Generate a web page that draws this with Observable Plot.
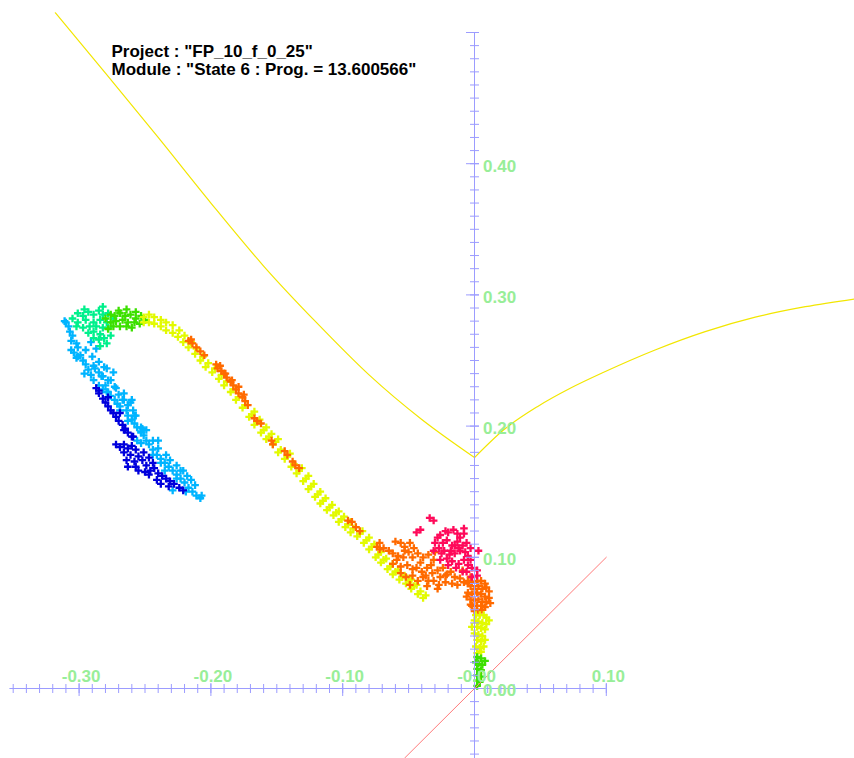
<!DOCTYPE html>
<html><head><meta charset="utf-8">
<script src="https://cdn.jsdelivr.net/npm/d3@7"></script>
<script src="https://cdn.jsdelivr.net/npm/@observablehq/plot@0.6"></script>
<style>html,body{margin:0;padding:0;background:#fff;overflow:hidden}</style>
</head><body><div id="chart"></div>
<script>
// ---- text ----
const titleLines = ['Project : "FP_10_f_0_25"', 'Module : "State 6 : Prog. = 13.600566"'];
const xLabelValues = [-0.3, -0.2, -0.1, 0, 0.1];
const xLabels = ["-0.30", "-0.20", "-0.10", "-0.00", "0.10"];
const yLabelValues = [0, 0.1, 0.2, 0.3, 0.4];
const yLabels = ["0.00", "0.10", "0.20", "0.30", "0.40"];
const xMinor = d3.range(-35, 11).map(i => i / 100);
const xMajor = [-0.3, -0.2, -0.1, 0, 0.1];
const yMinor = d3.range(-5, 51).map(i => i / 100);
const yMajor = [0, 0.1, 0.2, 0.3, 0.4, 0.5];
const xAxisExtent = [-0.3525, 0.10];
const yAxisExtent = [-0.054, 0.50];

// ---- curves ----
const yellowCurveLeft = [[-0.318,0.515],[-0.280,0.469],[-0.240,0.420],[-0.200,0.370],[-0.160,0.322],[-0.120,0.279],[-0.080,0.239],[-0.040,0.205],[0,0.176]];
const yellowCurveRight = [[0,0.176],[0.022,0.197],[0.048,0.215],[0.073,0.229],[0.098,0.241],[0.137,0.258],[0.175,0.272],[0.213,0.283],[0.251,0.291],[0.289,0.297]];
const diagonal = [[-0.053,-0.053],[0.10,0.10]];

// ---- scatter groups ----
const lightBlue = [[-0.311,0.280],[-0.308,0.276],[-0.307,0.272],[-0.305,0.269],[-0.306,0.265],[-0.302,0.263],[-0.301,0.260],[-0.304,0.256],[-0.299,0.254],[-0.297,0.250],[-0.295,0.247],[-0.293,0.243],[-0.291,0.239],[-0.289,0.235],[-0.285,0.231],[-0.282,0.228],[-0.280,0.231],[-0.278,0.226],[-0.276,0.223],[-0.273,0.220],[-0.271,0.217],[-0.269,0.215],[-0.270,0.224],[-0.266,0.220],[-0.264,0.212],[-0.263,0.208],[-0.260,0.205],[-0.258,0.202],[-0.256,0.199],[-0.253,0.196],[-0.251,0.193],[-0.249,0.189],[-0.253,0.187],[-0.247,0.186],[-0.244,0.182],[-0.241,0.178],[-0.238,0.175],[-0.235,0.172],[-0.232,0.169],[-0.229,0.166],[-0.226,0.163],[-0.223,0.160],[-0.220,0.157],[-0.217,0.153],[-0.214,0.150],[-0.211,0.147],[-0.208,0.145],[-0.240,0.189],[-0.252,0.198],[-0.257,0.208],[-0.282,0.238],[-0.289,0.246],[-0.295,0.258],[-0.302,0.252],[-0.296,0.240],[-0.276,0.235],[-0.272,0.229],[-0.266,0.225],[-0.261,0.218],[-0.259,0.212],[-0.244,0.189],[-0.234,0.178],[-0.226,0.170],[-0.218,0.162],[-0.215,0.159],[-0.207,0.147],[-0.306,0.258],[-0.301,0.253],[-0.279,0.244],[-0.253,0.199],[-0.310,0.279],[-0.240,0.183],[-0.231,0.174],[-0.221,0.166],[-0.212,0.155],[-0.274,0.241],[-0.285,0.241],
[-0.291,0.264],[-0.287,0.259],[-0.290,0.253],[-0.285,0.249],[-0.288,0.244],[-0.281,0.245],[-0.283,0.238],[-0.278,0.235],[-0.279,0.226],[-0.273,0.230],[-0.267,0.220],[-0.263,0.216],[-0.260,0.220],[-0.269,0.212],[-0.258,0.208],[-0.263,0.204],[-0.253,0.195],[-0.249,0.197],[-0.256,0.189],[-0.244,0.178],[-0.238,0.172],[-0.235,0.166],[-0.226,0.160],[-0.229,0.151],[-0.219,0.150],[-0.223,0.166]];
const darkBlue = [[-0.287,0.229],[-0.285,0.225],[-0.282,0.221],[-0.280,0.218],[-0.278,0.215],[-0.276,0.212],[-0.274,0.210],[-0.272,0.207],[-0.270,0.204],[-0.267,0.201],[-0.265,0.198],[-0.263,0.195],[-0.260,0.192],[-0.272,0.186],[-0.269,0.184],[-0.266,0.186],[-0.263,0.183],[-0.260,0.185],[-0.257,0.182],[-0.266,0.180],[-0.261,0.178],[-0.255,0.177],[-0.264,0.174],[-0.258,0.173],[-0.252,0.174],[-0.249,0.170],[-0.263,0.169],[-0.255,0.166],[-0.250,0.165],[-0.246,0.166],[-0.243,0.168],[-0.240,0.164],[-0.237,0.162],[-0.234,0.160],[-0.231,0.158],[-0.228,0.156],[-0.224,0.153],[-0.247,0.163],[-0.241,0.159],[-0.221,0.151],[-0.238,0.156],[-0.232,0.154],[-0.244,0.172],[-0.251,0.180],[-0.247,0.176],[-0.285,0.227],[-0.278,0.222],[-0.269,0.210],[-0.266,0.197],[-0.259,0.192],[-0.257,0.169]];
const aqua = [[-0.305,0.282],[-0.301,0.286],[-0.297,0.284],[-0.293,0.287],[-0.289,0.285],[-0.285,0.288],[-0.282,0.285],[-0.278,0.286],[-0.301,0.279],[-0.295,0.281],[-0.289,0.279],[-0.284,0.281],[-0.279,0.279],[-0.297,0.275],[-0.292,0.276],[-0.287,0.276],[-0.282,0.275],[-0.278,0.275],[-0.293,0.271],[-0.289,0.272],[-0.284,0.270],[-0.281,0.267],[-0.285,0.266],[-0.289,0.267],[-0.279,0.263],[-0.276,0.269],[-0.302,0.276],[-0.274,0.282],[-0.296,0.289],[-0.282,0.291],[-0.284,0.261]];
const green = [[-0.280,0.282],[-0.276,0.285],[-0.273,0.284],[-0.269,0.286],[-0.265,0.284],[-0.261,0.285],[-0.257,0.282],[-0.253,0.284],[-0.250,0.281],[-0.276,0.279],[-0.272,0.280],[-0.267,0.281],[-0.263,0.279],[-0.258,0.279],[-0.254,0.278],[-0.274,0.276],[-0.269,0.276],[-0.264,0.276],[-0.260,0.275],[-0.270,0.288],[-0.264,0.289],[-0.278,0.274],[-0.257,0.287]];
const yellow = [[-0.251,0.283],[-0.251,0.279],[-0.247,0.285],[-0.247,0.279],[-0.243,0.283],[-0.243,0.278],[-0.238,0.281],[-0.238,0.276],[-0.234,0.279],[-0.234,0.273],[-0.229,0.277],[-0.229,0.271],[-0.224,0.273],[-0.225,0.268],[-0.220,0.269],[-0.221,0.264],[-0.215,0.264],[-0.217,0.260],[-0.211,0.259],[-0.212,0.255],[-0.206,0.253],[-0.208,0.250],[-0.202,0.248],[-0.204,0.245],[-0.197,0.244],[-0.199,0.241],[-0.192,0.239],[-0.194,0.236],[-0.188,0.234],[-0.190,0.231],[-0.183,0.228],[-0.185,0.226],[-0.179,0.222],[-0.181,0.220],[-0.174,0.216],[-0.176,0.214],[-0.169,0.209],[-0.171,0.207],[-0.167,0.211],[-0.165,0.203],[-0.167,0.201],[-0.163,0.205],[-0.160,0.197],[-0.162,0.195],[-0.158,0.199],[-0.156,0.192],[-0.158,0.190],[-0.154,0.194],[-0.151,0.188],[-0.153,0.186],[-0.149,0.190],[-0.147,0.182],[-0.149,0.180],[-0.142,0.177],[-0.144,0.175],[-0.140,0.179],[-0.137,0.171],[-0.139,0.169],[-0.133,0.166],[-0.135,0.164],[-0.131,0.168],[-0.128,0.160],[-0.130,0.158],[-0.126,0.162],[-0.124,0.154],[-0.126,0.152],[-0.122,0.156],[-0.119,0.148],[-0.121,0.146],[-0.117,0.150],[-0.115,0.143],[-0.117,0.141],[-0.113,0.145],[-0.110,0.138],[-0.112,0.136],[-0.108,0.140],[-0.105,0.134],[-0.107,0.132],[-0.103,0.135],[-0.101,0.129],[-0.103,0.127],[-0.099,0.131],[-0.096,0.125],[-0.098,0.123],[-0.094,0.127],[-0.092,0.122],[-0.094,0.119],[-0.090,0.123],[-0.087,0.118],[-0.089,0.116],[-0.085,0.120],[-0.082,0.113],[-0.084,0.111],[-0.080,0.115],[-0.078,0.108],[-0.080,0.106],[-0.076,0.110],[-0.073,0.102],[-0.075,0.100],[-0.071,0.104],[-0.069,0.098],[-0.071,0.096],[-0.067,0.099],[-0.064,0.093],[-0.066,0.091],[-0.062,0.095],[-0.060,0.089],[-0.062,0.087],[-0.058,0.090],[-0.055,0.085],[-0.057,0.083],[-0.053,0.086],[-0.050,0.082],[-0.052,0.080],[-0.048,0.083],[-0.046,0.078],[-0.048,0.076],[-0.044,0.079],[-0.041,0.074],[-0.043,0.072],[-0.037,0.071],[-0.039,0.069]];
const orange = [[-0.217,0.265],[-0.214,0.263],[-0.211,0.260],[-0.208,0.257],[-0.205,0.254],[-0.215,0.266],[-0.196,0.247],[-0.195,0.244],[-0.192,0.242],[-0.190,0.240],[-0.188,0.237],[-0.185,0.234],[-0.183,0.231],[-0.181,0.228],[-0.179,0.225],[-0.176,0.222],[-0.174,0.219],[-0.172,0.216],[-0.193,0.246],[-0.189,0.240],[-0.184,0.235],[-0.179,0.230],[-0.175,0.224],[-0.167,0.206],[-0.165,0.204],[-0.162,0.202],[-0.154,0.189],[-0.153,0.186],[-0.144,0.181],[-0.142,0.178],[-0.138,0.173],[-0.136,0.170],[-0.133,0.168],[-0.096,0.128],[-0.093,0.127],[-0.090,0.123],[-0.087,0.120],[-0.074,0.108],[-0.072,0.106],
[-0.072,0.111],[-0.069,0.107],[-0.060,0.112],[-0.056,0.111],[-0.053,0.108],[-0.049,0.111],[-0.062,0.103],[-0.058,0.101],[-0.054,0.100],[-0.050,0.104],[-0.047,0.100],[-0.043,0.103],[-0.039,0.100],[-0.035,0.102],[-0.031,0.098],[-0.062,0.095],[-0.056,0.093],[-0.051,0.094],[-0.047,0.091],[-0.044,0.092],[-0.040,0.089],[-0.036,0.092],[-0.032,0.088],[-0.028,0.090],[-0.056,0.088],[-0.052,0.085],[-0.047,0.086],[-0.043,0.082],[-0.039,0.085],[-0.035,0.082],[-0.031,0.082],[-0.027,0.079],[-0.036,0.078],[-0.028,0.076],[-0.024,0.092],[-0.021,0.087],[-0.018,0.089],[-0.015,0.085],[-0.011,0.084],[-0.008,0.081],[-0.005,0.080],[-0.009,0.090],[-0.003,0.085],[-0.026,0.085],[-0.022,0.081],[-0.017,0.080],[-0.049,0.079],
[-0.065,0.105],[-0.059,0.098],[-0.053,0.105],[-0.046,0.107],[-0.041,0.096],[-0.033,0.094],[-0.030,0.104],[-0.037,0.086],[-0.022,0.086],[-0.013,0.079],
[-0.005,0.082],[-0.002,0.081],[0.002,0.082],[0.005,0.082],[0.008,0.080],[-0.003,0.078],[0.000,0.076],[0.003,0.078],[0.006,0.076],[0.009,0.077],[0.011,0.074],[-0.005,0.073],[-0.002,0.072],[0.002,0.073],[0.005,0.072],[0.008,0.070],[0.011,0.069],[-0.003,0.068],[0.000,0.067],[0.003,0.068],[0.006,0.066],[0.009,0.066],[-0.002,0.063],[0.002,0.063],[0.005,0.063],[0.008,0.062],[0.000,0.059],[0.003,0.058],[0.006,0.060],[-0.006,0.070],[0.012,0.065],[-0.003,0.064]];
const crimson = [[-0.034,0.130],[-0.031,0.128],[-0.044,0.119],[-0.041,0.121],[-0.028,0.115],[-0.026,0.117],[-0.020,0.119],[-0.016,0.121],[-0.013,0.118],[-0.011,0.115],[-0.008,0.118],[-0.024,0.111],[-0.021,0.113],[-0.017,0.109],[-0.013,0.112],[-0.009,0.109],[-0.031,0.105],[-0.027,0.107],[-0.023,0.105],[-0.018,0.105],[-0.015,0.103],[-0.011,0.105],[-0.007,0.104],[-0.005,0.101],[-0.026,0.098],[-0.021,0.099],[-0.017,0.097],[-0.012,0.095],[-0.008,0.098],[-0.005,0.094],[-0.002,0.092],[0.002,0.090],[0.003,0.105],[-0.006,0.089],[-0.002,0.085],[0.002,0.086],[-0.014,0.092],[-0.009,0.089],[-0.019,0.102],[-0.015,0.109],[-0.003,0.098],[-0.025,0.103],[-0.006,0.111],
[-0.022,0.120],[-0.030,0.111],[-0.012,0.107],[-0.020,0.094],[-0.008,0.122],[-0.003,0.107]];
const yellowLow = [[0.001,0.056],[0.004,0.056],[0.007,0.056],[0.009,0.054],[0.000,0.052],[0.003,0.051],[0.006,0.050],[0.009,0.049],[0.002,0.047],[0.005,0.046],[0.008,0.045],[0.000,0.042],[0.003,0.041],[0.006,0.040],[0.002,0.037],[0.005,0.036],[0.008,0.037],[0.001,0.032],[0.004,0.031],[0.007,0.032],[0.002,0.027],[0.005,0.028],[0.011,0.052],[-0.002,0.047]];
const greenLow = [[0.002,0.024],[0.005,0.023],[0.003,0.019],[0.006,0.018],[0.002,0.015],[0.005,0.014],[0.002,0.010],[0.005,0.009],[0.002,0.006],[0.004,0.005],[0.002,0.002],[0.001,0.020],[0.008,0.021]];

// ---- styles ----
const axisColor = "#9c9cff";
const labelColor = "#98ee98";
const font = "'Liberation Sans', Arial, sans-serif";
const plus = {draw(ctx) { const h = 3.8; ctx.moveTo(-h, 0); ctx.lineTo(h, 0); ctx.moveTo(0, -h); ctx.lineTo(0, h); }};
const pts = (arr, color) => Plot.dot(arr, {x: d => d[0], y: d => d[1], symbol: plus, stroke: color, fill: "none", strokeWidth: 2.3});

const chart = Plot.plot({
  width: 854, height: 758,
  marginTop: 0, marginRight: 0, marginBottom: 0, marginLeft: 0,
  style: {background: "#fff", fontFamily: font, overflow: "hidden"},
  x: {domain: [-474 / 1318, 380 / 1318], axis: null},
  y: {domain: [-70 / 1312, 688 / 1312], axis: null},
  marks: [
    pts(lightBlue, "#00b4ff"),
    pts(darkBlue, "#0000dc"),
    pts(aqua, "#00f08c"),
    pts(green, "#3ce000"),
    pts(yellow, "#e2fa00"),
    pts(orange, "#ff6a00"),
    pts(crimson, "#ff0a5a"),
    pts(yellowLow, "#e2fa00"),
    pts(greenLow, "#3ce000"),
    Plot.line(yellowCurveLeft, {x: d => d[0], y: d => d[1], stroke: "#f2e600", strokeWidth: 1.2, curve: "monotone-x"}),
    Plot.line(yellowCurveRight, {x: d => d[0], y: d => d[1], stroke: "#f2e600", strokeWidth: 1.2, curve: "monotone-x"}),
    Plot.line(diagonal, {x: d => d[0], y: d => d[1], stroke: "#ff7a7a", strokeWidth: 1}),
    // axes
    Plot.ruleY([0], {x1: xAxisExtent[0], x2: xAxisExtent[1], stroke: axisColor, strokeWidth: 1}),
    Plot.ruleX([0], {y1: yAxisExtent[0], y2: yAxisExtent[1], stroke: axisColor, strokeWidth: 1}),
    Plot.ruleX(xMinor, {x: d => d, y1: () => 0, y2: () => 0, insetTop: -4, insetBottom: -5, stroke: axisColor}),
    Plot.ruleX(xMajor, {x: d => d, y1: () => 0, y2: () => 0, insetTop: -5, insetBottom: -8, stroke: axisColor}),
    Plot.ruleY(yMinor, {y: d => d, x1: () => 0, x2: () => 0, insetLeft: -4, insetRight: -5, stroke: axisColor}),
    Plot.ruleY(yMajor, {y: d => d, x1: () => 0, x2: () => 0, insetLeft: -8, insetRight: -5, stroke: axisColor}),
    Plot.text(xLabelValues, {x: d => d, y: () => 0, text: (d, i) => xLabels[i], dx: 2, dy: -6.5, lineAnchor: "bottom", textAnchor: "middle", fill: labelColor, fontSize: 17, fontWeight: "bold", fontFamily: font}),
    Plot.text(yLabelValues, {x: () => 0, y: d => d, text: (d, i) => yLabels[i], dx: 8.5, dy: 2.5, lineAnchor: "middle", textAnchor: "start", fill: labelColor, fontSize: 17, fontWeight: "bold", fontFamily: font}),
    Plot.text([titleLines.join("\n")], {frameAnchor: "top-left", dx: 111, dy: 74, text: d => d, lineAnchor: "bottom", textAnchor: "start", fontWeight: "bold", fontSize: 17, lineHeight: 18 / 17, fill: "black", fontFamily: font})
  ]
});
document.getElementById("chart").appendChild(chart);
</script>
</body></html>
